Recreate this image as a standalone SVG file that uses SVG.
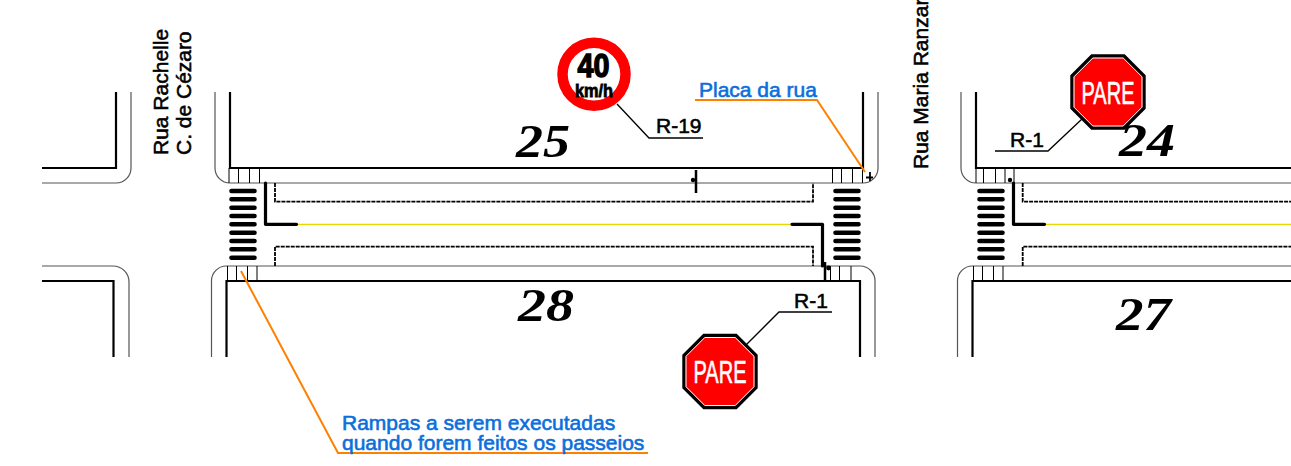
<svg xmlns="http://www.w3.org/2000/svg" width="1291" height="466" viewBox="0 0 1291 466">
<style>
.thick{fill:none;stroke:#000;stroke-width:2.2}
.thin{fill:none;stroke:#555;stroke-width:1.2}
.rung{fill:none;stroke:#000;stroke-width:1}
.bar{fill:none;stroke:#000;stroke-width:4.6;stroke-linecap:round}
.stop{fill:none;stroke:#000;stroke-width:3.2;stroke-linejoin:round;stroke-linecap:round}
.dash{fill:none;stroke:#000;stroke-width:1.8;stroke-dasharray:4 1}
.yellow{fill:none;stroke:#e8d800;stroke-width:1.3}
.lead{fill:none;stroke:#000;stroke-width:1.3}
.orange{fill:none;stroke:#ff8000;stroke-width:2}
.t{font-family:"Liberation Sans",Arial,sans-serif;font-size:21px;fill:#000;stroke:#000;stroke-width:.55}
.blue{font-family:"Liberation Sans",Arial,sans-serif;font-size:21px;fill:#0a6fdc;stroke:#0a6fdc;stroke-width:.6}
.lot{font-family:"Liberation Serif","Times New Roman",serif;font-size:46px;font-weight:bold;font-style:italic;fill:#000}
.pare{font-family:"Liberation Sans",Arial,sans-serif;font-size:31px;fill:#fff;stroke:#fff;stroke-width:.6;text-anchor:middle}
</style>
<defs>
<g id="bars">
<path class="bar" d="M0 191H23M0 199.3H23M0 207.7H23M0 216H23M0 224.3H23M0 232.7H23M0 241H23M0 249.3H23M0 257.7H23"/>
</g>
<g id="octagon">
<polygon points="-16,-36 16,-36 36,-16 36,16 16,36 -16,36 -36,16 -36,-16" fill="#f00" stroke="#000" stroke-width="3.4"/>
<polygon points="-15.2,-34 15.2,-34 34,-15.2 34,15.2 15.2,34 -15.2,34 -34,15.2 -34,-15.2" fill="#f00" stroke="#fff" stroke-width="1"/>
</g>
</defs>

<g id="block-left-upper"><path class="thick" d="M42 168H116V92"/><path class="thin" d="M42 183H116A15 15 0 0 0 131 168V92"/></g>
<g id="block-left-lower"><path class="thick" d="M42 281H113.500V357"/><path class="thin" d="M42 266H113A16 16 0 0 1 129 282V357"/></g>

<g id="block-25">
<path class="thick" d="M230 92V168H863V92"/>
<path class="thin" d="M215 92V168A15 15 0 0 0 230 183H863A15 15 0 0 0 878 168V92"/>
<path class="rung" d="M229 168V183M238.500 168V183M249.500 168V183M259.500 168V183M832.500 168V183M841.500 168V183M852.500 168V183M862.500 168V183"/>
</g>
<g id="block-28">
<path class="thick" d="M226.500 357V281H860V357"/>
<path class="thin" d="M211.500 357V282A15 15 0 0 1 227 266H860A15 15 0 0 1 875 282V357"/>
<path class="rung" d="M227.500 266V281M236.500 266V281M247.500 266V281M257 266V281M825 266V281M830.500 266V281M839.500 266V281M851 266V281"/>
</g>
<g id="block-24">
<path class="thick" d="M976 92V168H1291"/>
<path class="thin" d="M961 92V168A15 15 0 0 0 976 183H1291"/>
<path class="rung" d="M976 168V183M983.500 168V183M995.500 168V183M1005 168V183M1014 168V183"/>
</g>
<g id="block-27">
<path class="thick" d="M972.500 357V281H1291"/>
<path class="thin" d="M957.500 357V282A15 15 0 0 1 973 266H1291"/>
<path class="rung" d="M973.500 266V281M982.500 266V281M993.500 266V281M1003 266V281"/>
</g>

<g id="crosswalks">
<use href="#bars" x="231.500"/><use href="#bars" x="835.500"/><use href="#bars" x="979.500"/>
</g>

<g id="road-marks">
<path class="yellow" d="M297 224.300H792M1045 224.300H1291"/>
<path class="dash" d="M275 183V201.600H813V183M275 266V246.700H813V266M1022.700 183V201.600H1291M1022.700 266V246.700H1291"/>
<path class="stop" d="M265.500 183V224.300H296.500M792 224.300H822.500V266M1013.500 183V224.300H1044.500"/>
<path fill="none" stroke="#000" stroke-width="2.500" d="M696 170V193M825 262V280"/>
<circle cx="693" cy="180" r="2.200"/><circle cx="1010" cy="180" r="2.200"/><circle cx="828.500" cy="268" r="2.400"/>
<path fill="none" stroke="#000" stroke-width="1.800" d="M866 177.500H873M870 172V181"/>
</g>

<g id="connectors">
<path class="lead" d="M617 104L649 138H703"/>
<path class="lead" d="M746 345L779 312H832"/>
<path class="lead" d="M1082 119L1048 151H995"/>
<path class="orange" d="M695 100H817L865 172"/>
<path class="orange" d="M241 271L338 453H648"/>
</g>

<g id="sign-r19">
<circle cx="594" cy="74.300" r="31.500" fill="#fff" stroke="#f00" stroke-width="10.500"/>
<text x="593.500" y="77" text-anchor="middle" font-family="'Liberation Sans',Arial,sans-serif" font-size="33" font-weight="bold" stroke="#000" stroke-width="1.400" textLength="32" lengthAdjust="spacingAndGlyphs">40</text>
<text x="594" y="97" text-anchor="middle" font-family="'Liberation Sans',Arial,sans-serif" font-size="18" font-weight="bold" stroke="#000" stroke-width=".8" textLength="38" lengthAdjust="spacingAndGlyphs">km/h</text>
<text class="t" x="656" y="133">R-19</text>
</g>
<g id="sign-r1-bottom">
<use href="#octagon" x="720" y="371.500"/>
<text class="pare" x="720" y="383" textLength="53" lengthAdjust="spacingAndGlyphs">PARE</text>
<text class="t" x="794" y="308">R-1</text>
</g>
<g id="sign-r1-top">
<use href="#octagon" x="1108" y="92"/>
<text class="pare" x="1108" y="103.500" textLength="53" lengthAdjust="spacingAndGlyphs">PARE</text>
<text class="t" x="1010" y="147">R-1</text>
</g>

<g id="lot-labels">
<text class="lot" x="516" y="157" textLength="54" lengthAdjust="spacingAndGlyphs">25</text>
<text class="lot" x="518" y="321" textLength="56" lengthAdjust="spacingAndGlyphs">28</text>
<text class="lot" x="1119" y="156" textLength="56" lengthAdjust="spacingAndGlyphs">24</text>
<text class="lot" x="1116" y="330" textLength="55" lengthAdjust="spacingAndGlyphs">27</text>
</g>

<g id="street-labels">
<text class="t" transform="translate(168 155) rotate(-90)">Rua Rachelle</text>
<text class="t" transform="translate(191 155) rotate(-90)">C. de Cézaro</text>
<text class="t" transform="translate(928 169) rotate(-90)">Rua Maria Ranzar</text>
</g>

<g id="notes">
<text class="blue" x="699" y="97">Placa da rua</text>
<text class="blue" x="342" y="430">Rampas a serem executadas</text>
<text class="blue" x="342" y="450">quando forem feitos os passeios</text>
</g>
</svg>
